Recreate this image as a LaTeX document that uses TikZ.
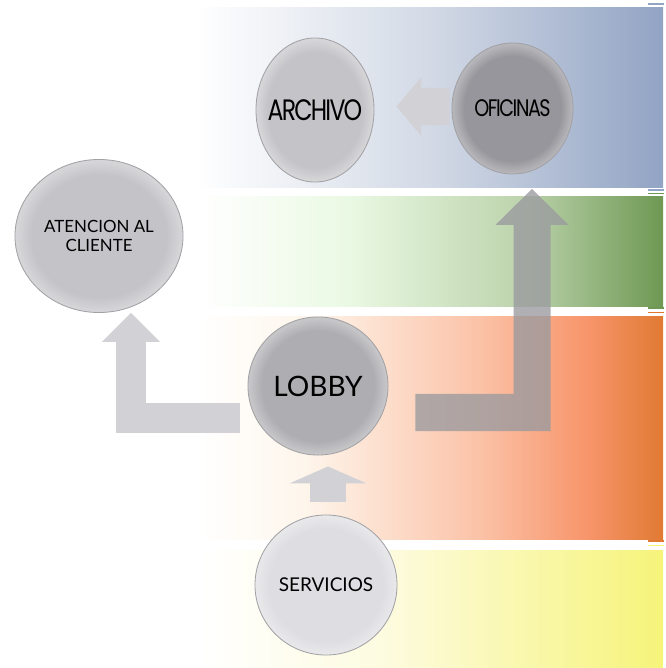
\documentclass[tikz,border=0pt]{standalone}
\usepackage{fontspec}
\usepackage{tikz}
\usetikzlibrary{arrows.meta,calc,shapes.geometric}
\newfontfamily\gothicfont[FakeStretch=0.8,LetterSpace=-6]{Poppins}
\newfontfamily\gillfont{Lato}
\definecolor{bandBlue}{HTML}{92A4C4}
\definecolor{bandBlueMid}{HTML}{D3DAE6}
\definecolor{bandGreen}{HTML}{6E9853}
\definecolor{bandGreenPale}{HTML}{EAF9E3}
\definecolor{bandGreenMid}{HTML}{BCD3AC}
\definecolor{bandOrange}{HTML}{E07A33}
\definecolor{bandOrangeCream}{HTML}{FEF6EC}
\definecolor{bandOrangeMid}{HTML}{FBC3A8}
\definecolor{bandOrangeHot}{HTML}{F7946A}
\definecolor{bandYellow}{HTML}{F6F47A}
\definecolor{bandYellowPale}{HTML}{FDFBDF}
\definecolor{ballLight}{HTML}{C4C4C8}
\definecolor{ballDark}{HTML}{96969C}
\definecolor{ballMid}{HTML}{AEAEB2}
\definecolor{ballPale}{HTML}{DEDEE2}
\definecolor{ballEdge}{HTML}{A2A2A6}
\definecolor{flowLight}{HTML}{D1D1D6}
\definecolor{flowDark}{HTML}{9A9A9F}
% band and ball shadings
\pgfdeclarehorizontalshading{bandblue}{100bp}{color(0bp)=(white); color(25bp)=(white);
  color(50bp)=(bandBlueMid); color(75bp)=(bandBlue); color(100bp)=(bandBlue)}
\pgfdeclarehorizontalshading{bandgreen}{100bp}{color(0bp)=(white); color(25bp)=(white);
  color(41bp)=(bandGreenPale); color(60bp)=(bandGreenMid); color(75bp)=(bandGreen); color(100bp)=(bandGreen)}
\pgfdeclarehorizontalshading{bandorange}{100bp}{color(0bp)=(white); color(25bp)=(white);
  color(36bp)=(bandOrangeCream); color(55bp)=(bandOrangeMid); color(67bp)=(bandOrangeHot);
  color(75bp)=(bandOrange); color(100bp)=(bandOrange)}
\pgfdeclarehorizontalshading{bandyellow}{100bp}{color(0bp)=(white); color(25bp)=(white);
  color(45bp)=(bandYellowPale); color(75bp)=(bandYellow); color(100bp)=(bandYellow)}
\newcommand\ballshading[2]{\pgfdeclareradialshading{#1}{\pgfpoint{0bp}{0bp}}{color(0bp)=(#2);
  color(20bp)=(#2); color(24.5bp)=(#2!70!white); color(50bp)=(#2!70!white)}}
\ballshading{balllight}{ballLight}
\ballshading{balldark}{ballDark}
\ballshading{ballmid}{ballMid}
\ballshading{ballpale}{ballPale}

\begin{document}
\begin{tikzpicture}[
  x=0.025cm,y=-0.025cm,
  ball/.style={ellipse,draw=ballEdge,line width=0.6pt,inner sep=-10pt,align=center,text=black},
  gothic/.style={font=\gothicfont\fontsize{#1}{#1}\selectfont},
  gill/.style={font=\gillfont\fontsize{#1}{13}\selectfont},
  flow/.style={draw=#1,line join=miter},
  edgetick/.style={draw=#1,line width=1.1pt}
]
  \useasboundingbox (0,0) rectangle (665,668);

  % bands
  \shade[shading=bandblue] (195,8) rectangle (663,188);
  \shade[shading=bandgreen] (200,197) rectangle (663,306);
  \shade[shading=bandorange] (200,316) rectangle (663,539);
  \shade[shading=bandyellow] (200,550) rectangle (663,668);
  \draw[edgetick=bandBlue] (648,4) -- (664,4);
  \draw[edgetick=bandBlue] (648,190) -- (664,190);
  \draw[edgetick=bandGreen] (648,193.5) -- (664,193.5);
  \draw[edgetick=bandGreen] (648,308) -- (664,308);
  \draw[edgetick=bandOrange] (648,312.5) -- (664,312.5);
  \draw[edgetick=bandOrange] (648,541) -- (664,541);
  \draw[edgetick=bandYellow] (648,545.5) -- (664,545.5);

  % circles
  \node[ball,shading=balllight,minimum width=2.95cm,minimum height=3.6cm,gothic=21] (arch) at (315,110) {ARCHIVO};
  \node[ball,shading=balldark,minimum width=3.025cm,minimum height=3.275cm,gothic=17] (ofi) at (512.5,108.5) {OFICINAS};
  \node[ball,shading=balllight,minimum width=4.2cm,minimum height=3.825cm,gill=12] (aten) at (99,236) {ATENCION AL\\CLIENTE};
  \node[ball,shading=ballmid,minimum width=3.5cm,minimum height=3.45cm,gill=20] (lobby) at (318,386) {LOBBY};
  \node[ball,shading=ballpale,minimum width=3.55cm,minimum height=3.5cm,gill=13.5] (serv) at (326,585) {SERVICIOS};

  % arrows
  \draw[flow=flowLight,line width=0.925cm,-{Triangle[length=0.625cm,width=1.475cm,line width=0pt]}]
    ($(ofi.west)+(-2,-2)$) -- ($(arch.east)+(22,-3.5)$);
  \draw[flow=flowLight,line width=0.725cm,-{Triangle[length=0.725cm,width=1.45cm,line width=0pt]}]
    ($(lobby.west)+(-8,32)$) -| ($(aten.south)+(32,0)$);
  \draw[flow=flowLight,line width=0.9cm,-{Triangle[length=0.425cm,width=1.925cm,line width=0pt]}]
    ($(serv.north)+(2,-13)$) -- ($(lobby.south)+(10,11)$);
  \begin{scope}[transparency group,opacity=0.78]
    \draw[flow=flowDark,line width=0.925cm,-{Triangle[length=0.9cm,width=1.825cm,line width=0pt]}]
      ($(lobby.east)+(27,26.5)$) -| ($(ofi.south)+(19.5,14.5)$);
  \end{scope}
\end{tikzpicture}
\end{document}
